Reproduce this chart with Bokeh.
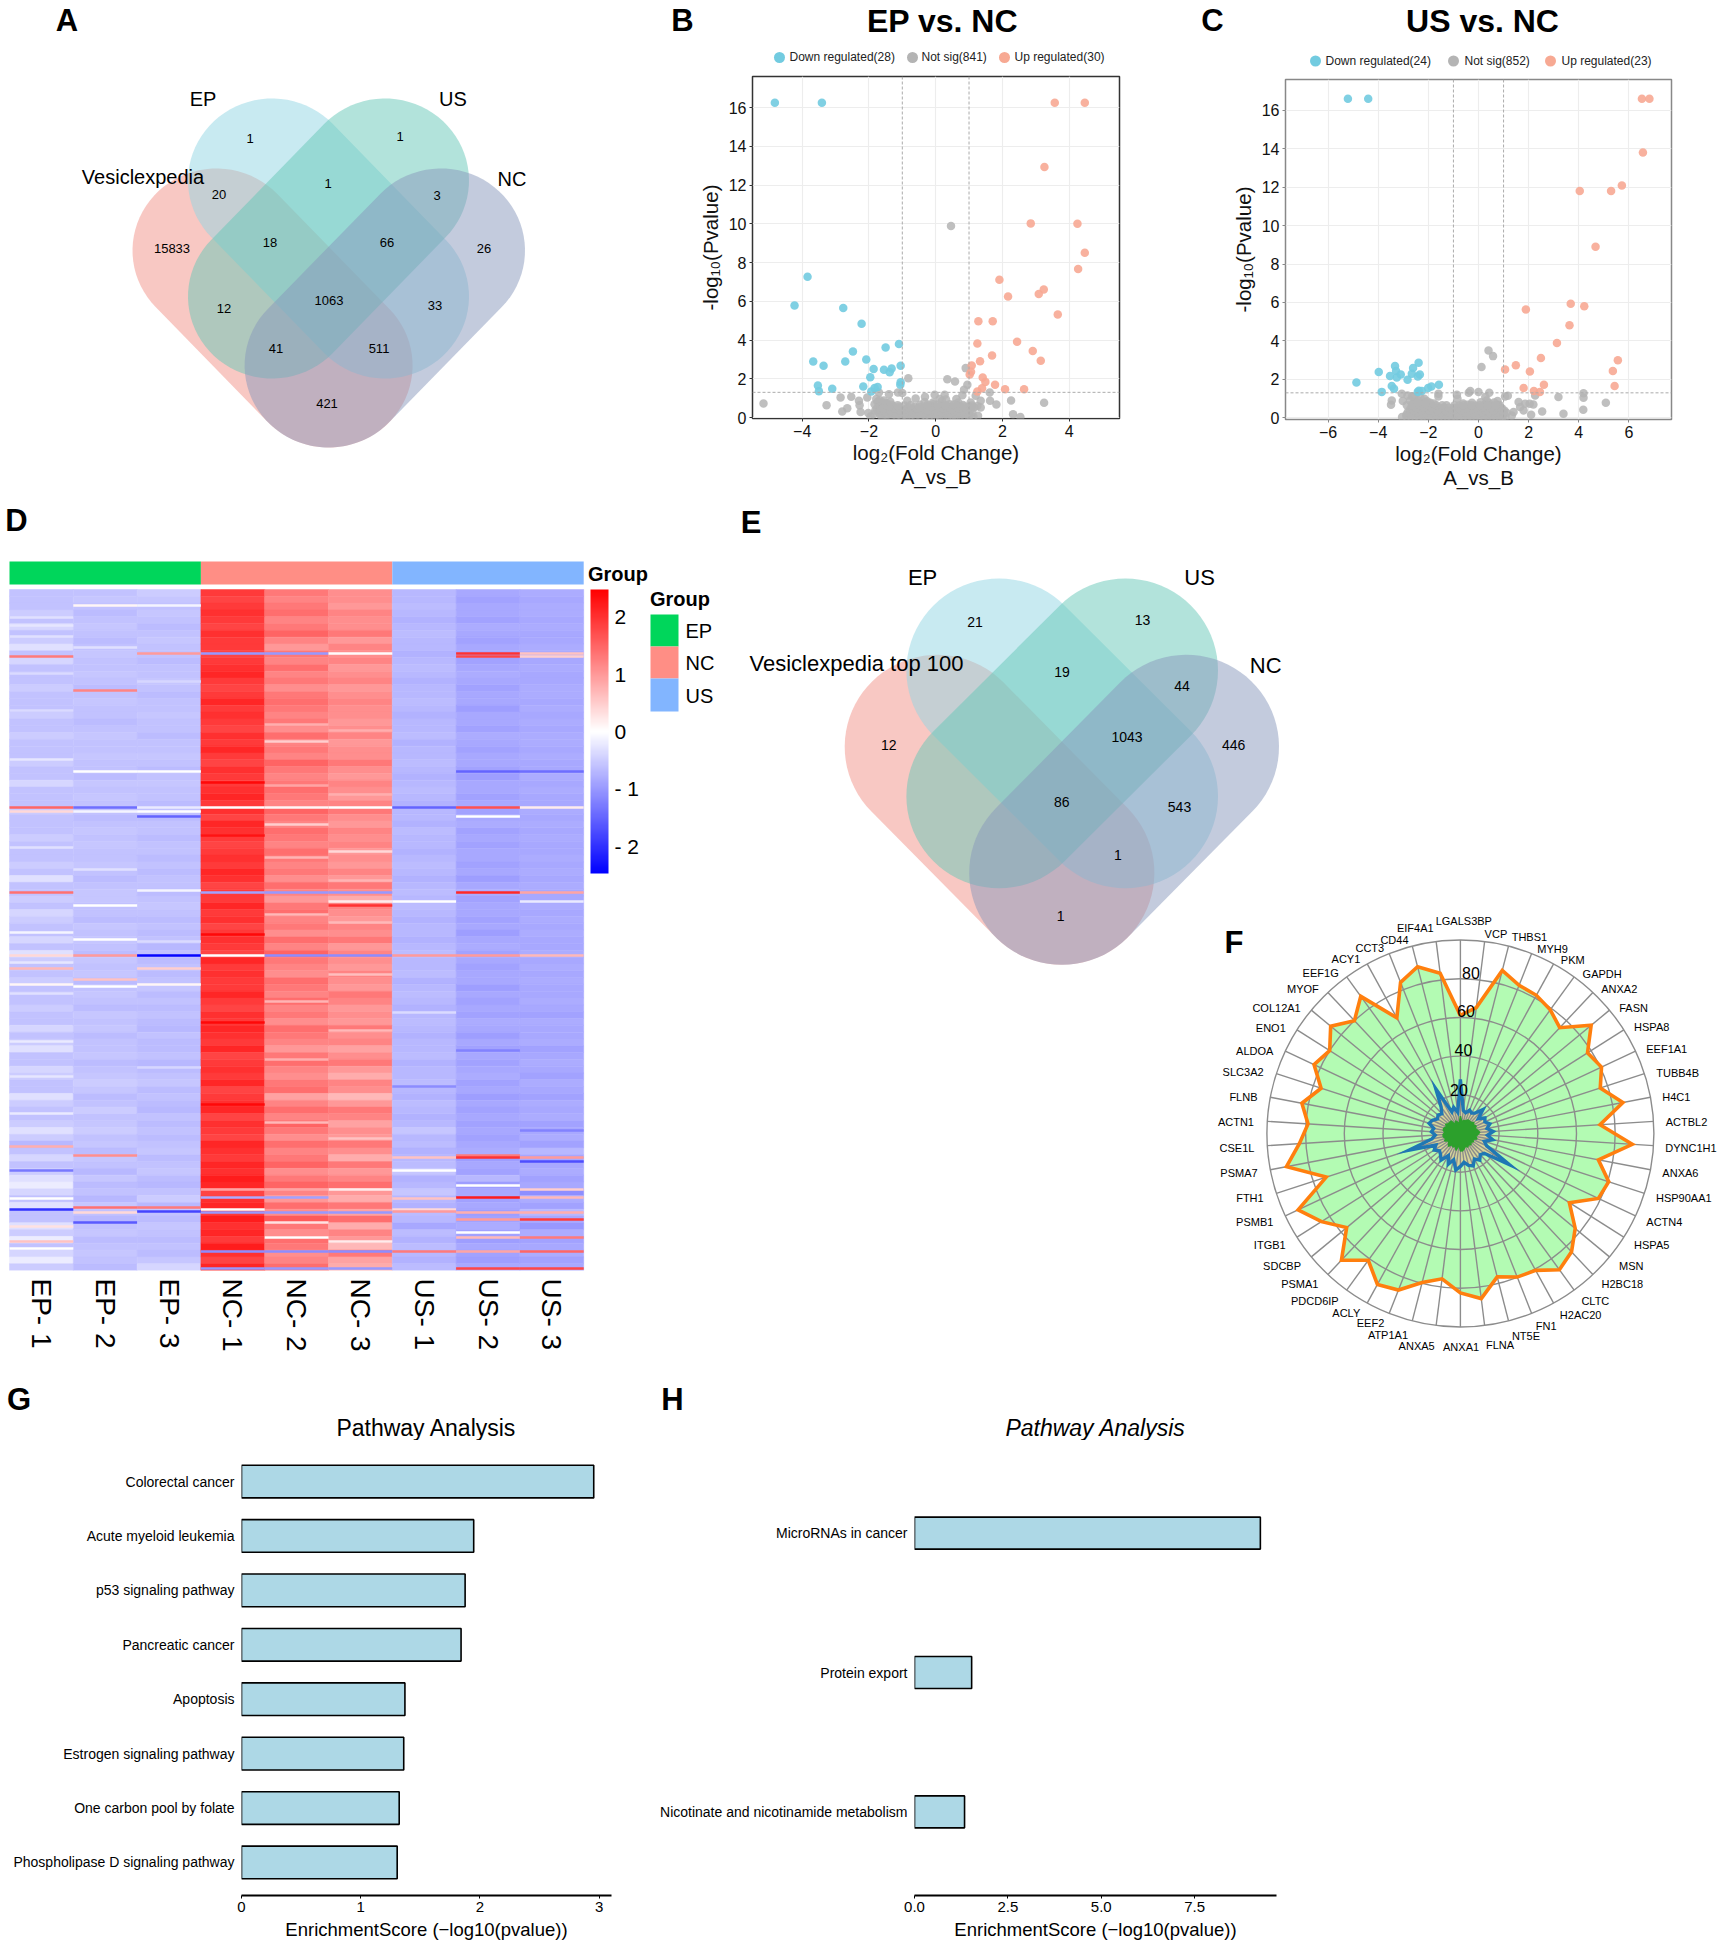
import math
from bokeh.plotting import figure
from bokeh.layouts import column, row
from bokeh.models import (Range1d, Label, FixedTicker, LinearColorMapper, ColorBar, FactorRange, Span)
from bokeh.core.properties import value
from bokeh.transform import transform
from bokeh.embed import file_html
from bokeh.resources import INLINE

FONT = "Liberation Sans"

# ---------------- DATA ----------------
venn_a_sets = ["EP", "US", "Vesiclexpedia", "NC"]
venn_a_counts = ["1", "1", "1", "20", "3", "18", "66", "15833", "26", "1063", "12", "33", "41", "511", "421"]
venn_e_sets = ["EP", "US", "Vesiclexpedia top 100", "NC"]
venn_e_counts = ["21", "13", "19", "44", "12", "1043", "446", "86", "543", "1", "1"]

b_down = [(-4.82,16.25),(-3.41,16.25),(-3.84,7.26),(-4.23,5.78),(-2.77,5.65),(-2.22,4.84),(-1.10,3.80),(-1.50,3.61),
          (-2.48,3.41),(-2.08,2.99),(-3.67,2.89),(-2.71,2.89),(-3.36,2.67),(-1.05,2.67),(-1.86,2.50),(-1.55,2.46),
          (-1.32,2.53),(-1.38,2.34),(-1.96,2.08),(-1.05,1.82),(-1.06,1.69),(-3.53,1.65),(-2.17,1.60),(-1.74,1.58),
          (-1.83,1.53),(-3.50,1.36),(-3.10,1.48),(-1.93,1.34)]
b_up = [(3.57,16.25),(4.47,16.25),(3.26,12.93),(2.85,10.02),(4.25,10.0),(4.47,8.50),(4.27,7.66),(1.91,7.11),
        (2.17,6.25),(3.24,6.61),(3.09,6.37),(3.66,5.32),(1.28,4.97),(1.71,4.97),(2.44,3.91),(1.25,3.82),
        (2.91,3.43),(1.69,3.20),(3.15,2.93),(1.33,2.91),(1.08,2.69),(1.06,2.36),(1.02,2.22),(1.41,2.07),
        (1.49,1.84),(1.78,1.69),(1.39,1.51),(2.08,1.46),(2.65,1.46),(1.25,1.34)]
b_notsig = [(-5.16,.72),(0.46,9.88),(-3.27,.64),(-2.80,.31),(-2.65,.48),(-2.85,1.03),(-2.53,1.07),(-2.25,.29),(-2.30,.86),
            (-2.28,.64),(-2.05,1.03),(-1.70,1.29),(-1.40,1.20),(-1.13,1.29),(-1.00,1.26),(-.82,2.03),(-.85,.86),(-.60,.98),
            (-.32,1.07),(-.03,1.17),(.27,1.17),(.35,1.98),(.58,1.86),(.62,.95),(.90,2.55),(.95,1.69),(.85,1.43),(.80,1.15),
            (1.20,1.12),(1.62,1.29),(1.63,.86),(1.82,.67),(2.26,.88),(2.32,.17),(2.54,.03),(3.25,.76),(1.35,.86),(1.25,.60),
            (1.35,.52),(1.27,.09),(1.10,.26),(1.05,.77),
            (-1.95,.05),(-1.62,.03),(-1.31,.07),(-1.02,.02),(-.74,.06),(-.46,.03),(-.19,.07),(.11,.02),(.36,.06),(.61,.03),(.88,.05),(1.13,.04),
            (-1.86,.17),(-1.47,.14),(-1.14,.16),(-.91,.13),(-.58,.18),(-.31,.12),(-.06,.15),(.22,.18),(.49,.13),(.76,.16),(1.02,.12),
            (-2.02,.24),(-1.71,.27),(-1.36,.23),(-1.06,.28),(-.79,.24),(-.51,.26),(-.14,.23),(.04,.29),(.31,.25),(.56,.27),(.84,.23),
            (-1.81,.36),(-1.52,.33),(-1.19,.38),(-.96,.34),(-.64,.37),(-.36,.33),(-.11,.38),(.16,.35),(.41,.32),(.69,.37),(.96,.35),
            (-1.76,.47),(-1.41,.44),(-1.09,.48),(-.71,.45),(-.42,.47),(-.21,.43),(.09,.48),(.34,.44),(.59,.46),(.81,.43),(1.06,.47),
            (-1.72,.56),(-1.56,.53),(-1.26,.57),(-1.70,.66),(-.62,.55),(-.26,.58),(.06,.54),(.24,.57),(.51,.55),(.74,.58),(.98,.56),
            (-1.83,.68),(-1.64,.64),(-1.32,.66),(-.93,.62),(-.47,.66),(-.07,.69),(.17,.63),(.42,.68),(.66,.64),(1.09,.62),
            (-1.74,.82),(-1.59,.78),(-1.46,.74),(-1.68,.90),(-1.78,.95),(-.33,.80),(-.08,.77),(.19,.85),(.31,.93),(.12,.96),(.68,.78),
            (-1.49,.06),(-1.17,.04),(-.88,.07),(-.60,.04),(-.32,.08),(-.03,.03),(.24,.07),(.49,.04),(.74,.07),(1.00,.03),
            (-1.66,.15),(-1.30,.18),(-1.00,.17),(-.74,.15),(-.45,.19),(-.18,.16),(.08,.13),(.36,.17),(.62,.14),(.89,.18),
            (-1.55,.26),(-1.21,.25),(-.92,.24),(-.65,.27),(-.33,.25),(-.01,.22),(.18,.27),(.44,.24),(.70,.26),(.97,.24),
            (-1.65,.38),(-1.35,.36),(-1.07,.36),(-.80,.37),(-.50,.34),(-.23,.36),(.02,.34),(.28,.37),(.55,.35),(.82,.33),
            (-1.58,.45),(-1.24,.46),(-.90,.44),(-.56,.46),(-.31,.45),(-.03,.44),(.22,.46),(.47,.43),(.70,.47),(.93,.44),
            (-1.40,.56),(-1.10,.55),(-.82,.53),(-.47,.54),(-.12,.56),(.15,.55),(.38,.56),(.63,.54),(.86,.57),(1.15,.53),
            (-1.48,.66),(-1.14,.64),(-.75,.65),(-.25,.66),(.06,.66),(.30,.64),(.54,.67),(.82,.65),(-1.55,.88),(-1.36,.82)]

c_down = [(-5.21,16.6),(-4.40,16.6),(-2.39,2.86),(-3.33,2.69),(-2.61,2.59),(-3.98,2.38),(-3.29,2.43),(-3.53,2.17),
          (-3.10,2.26),(-2.66,2.29),(-2.34,2.26),(-2.42,2.15),(-3.26,2.10),(-2.83,1.98),(-4.87,1.84),(-3.46,1.65),
          (-3.37,1.51),(-3.86,1.35),(-1.58,1.72),(-1.88,1.63),(-2.01,1.55),(-2.38,1.41),(-2.26,1.39),(-2.42,1.35)]
c_up = [(6.52,16.6),(6.82,16.6),(6.56,13.8),(5.72,12.08),(5.29,11.8),(4.04,11.8),(4.67,8.9),(3.68,5.94),(4.22,5.8),
        (1.89,5.64),(3.63,4.81),(3.13,3.89),(2.49,3.11),(5.56,3.0),(1.49,2.73),(1.06,2.52),(2.05,2.41),(5.36,2.43),
        (2.61,1.72),(5.43,1.65),(1.80,1.55),(2.21,1.39),(2.45,1.34)]
c_notsig = [(.40,3.50),(.58,3.21),(.12,2.64),(-3.46,.90),(-3.49,.68),(-3.06,1.25),(-3.02,.87),(-2.83,1.16),(-2.58,1.08),(-2.16,.99),
            (-1.60,1.25),(-1.60,1.11),(-.86,1.20),(-.84,.99),(-.39,1.30),(-.33,1.39),(0.0,1.34),(.43,1.30),(.27,1.08),(.33,.90),
            (1.06,1.11),(1.17,1.15),(.76,.87),(.78,.68),(2.26,1.16),(2.19,.69),(2.04,.73),(1.86,.73),(1.66,.56),(1.80,.38),
            (1.60,.82),(2.10,.16),(2.54,.33),(1.40,.30),(1.33,.12),(3.19,1.08),(3.39,.21),(4.19,1.28),(4.19,1.04),(4.18,.42),(5.08,.78),
            (-3.05,.04),(-2.71,.07),(-2.38,.03),(-2.06,.06),(-1.72,.02),(-1.41,.07),(-1.09,.03),(-.76,.06),(-.44,.02),(-.12,.07),(.21,.03),(.53,.06),(.84,.02),(1.08,.05),
            (-2.88,.16),(-2.51,.19),(-2.22,.14),(-1.87,.18),(-1.55,.15),(-1.24,.19),(-.91,.14),(-.59,.17),(-.28,.15),(.06,.19),(.37,.14),(.69,.18),(.97,.15),
            (-2.82,.29),(-2.62,.26),(-2.29,.30),(-1.98,.27),(-1.66,.31),(-1.33,.26),(-1.02,.30),(-.71,.27),(-.37,.31),(-.05,.26),(.27,.29),(.58,.27),(.89,.31),(1.12,.26),
            (-2.74,.42),(-2.41,.38),(-2.12,.43),(-1.79,.39),(-1.47,.42),(-1.16,.38),(-.83,.43),(-.52,.40),(-.19,.38),(.13,.43),(.44,.39),(.76,.42),(1.03,.38),
            (-2.67,.54),(-2.33,.51),(-2.04,.55),(-1.71,.51),(-1.38,.54),(-.98,.52),(-.64,.55),(-.31,.51),(.02,.55),(.35,.52),(.63,.54),(.93,.50),
            (-2.86,.66),(-2.48,.63),(-2.18,.68),(-1.85,.63),(-1.28,.66),(-.77,.64),(-.43,.68),(-.12,.64),(.22,.67),(.51,.63),(.85,.66),
            (-2.59,.78),(-2.27,.76),(-1.93,.79),(-2.73,.90),(-2.42,.92),(-2.05,.86),(-.26,.78),(.08,.81),(.43,.76),(.62,.80),(-.61,.74),(-2.31,1.02),(-2.65,1.12),
            (-2.87,.06),(-2.54,.05),(-2.22,.07),(-1.89,.04),(-1.57,.06),(-1.25,.05),(-.93,.07),(-.60,.04),(-.28,.05),(.04,.07),(.37,.04),(.68,.06),(.96,.04),
            (-2.70,.18),(-2.36,.17),(-2.04,.16),(-1.71,.19),(-1.40,.17),(-1.08,.15),(-.75,.18),(-.43,.16),(-.11,.17),(.22,.16),(.53,.17),(.83,.15),
            (-2.46,.28),(-2.14,.27),(-1.82,.29),(-1.50,.28),(-1.18,.27),(-.87,.29),(-.54,.28),(-.21,.27),(.11,.30),(.43,.28),(.74,.26),(1.00,.29),
            (-2.58,.40),(-2.27,.41),(-1.95,.40),(-1.63,.41),(-1.31,.40),(-1.00,.41),(-.67,.39),(-.35,.41),(-.03,.40),(.29,.41),(.60,.40),(.90,.41),
            (-2.50,.53),(-2.19,.52),(-1.87,.54),(-1.54,.52),(-1.18,.53),(-.81,.54),(-.47,.53),(-.15,.52),(.18,.54),(.49,.53),(.78,.52),
            (-2.66,.67),(-2.33,.66),(-2.01,.66),(-1.68,.65),(-1.45,.66),(-.95,.65),(-.60,.66),(-.28,.65),(.05,.66),(.36,.65),(.68,.66),(-2.43,.78),(-2.10,.78),(-1.78,.74)]

gene_names = ["LGALS3BP","VCP","THBS1","MYH9","PKM","GAPDH","ANXA2","FASN","HSPA8","EEF1A1","TUBB4B","H4C1","ACTBL2",
              "DYNC1H1","ANXA6","HSP90AA1","ACTN4","HSPA5","MSN","H2BC18","CLTC","H2AC20","FN1","NT5E","FLNA","ANXA1",
              "ANXA5","ATP1A1","EEF2","ACLY","PDCD6IP","PSMA1","SDCBP","ITGB1","PSMB1","FTH1","PSMA7","CSE1L","ACTN1",
              "FLNB","SLC3A2","ALDOA","ENO1","COL12A1","MYOF","EEF1G","ACY1","CCT3","CD44","EIF4A1"]
radar_orange = [61,65.6,87,82.4,81.5,79,75,87.7,77.8,80.6,76,85.5,72.3,89,72.6,80.6,78.8,66.7,77,83.9,87,80.7,79.8,76.5,86,
                82.4,75.7,79.5,87,89,81,89.8,76.3,85,92.7,72.9,91.5,83.4,78.9,83.4,75.7,83.6,80,87,80,87.6,68.2,84,89,83.5]
radar_blue = [28,12,11,13,12,13,17,12,15,14,16,14,17,14,17,13,15,30,16,15,17,15,18,17,15,17,19,14,17,13,17,15,14,16,14,28,
              15,13,15,14,17,16,14,15,14,17,26.5,12,14,11]
radar_green = [9,6,7,7,8,8,8,9,8,9,8,9,10,9,8,9,7,8,7,8,7,8,7,8,9,9,6,9,7,8,7,9,8,7,9,8,9,9,8,9,9,8,9,8,8,8,5,7,6,5]
radar_ticks = [20, 40, 60, 80]

sample_names = ["EP- 1","EP- 2","EP- 3","NC- 1","NC- 2","NC- 3","US- 1","US- 2","US- 3"]
group_names = ["EP","NC","US"]
heat_ep1 = [-.6,-.6,-.6,-.5,-.6,-.4,-.6,-.5,-.3,-.6, -.4,-.6,-.6,-.6,-.5,-.6,-.6,-.6,-.5,-.6,
            -.6,-.5,-.6,-.6,-.6,-.5,-.6,-.6,-.4,-.6, -.6,-.6,-.5,-.6,-.6,-.6,-.5,-.6,-.6,-.6,
            -.5,-.6,-.3,-.6,-.6,-.5,-.6,-.4,-.5,-.6, -.6,-.4,-.6,-.3,-.5,-.6,-.6,-.5,-.6,-.6,
            -.6,-.5,-.6,-.6,-.4,-.6,-.5,-.3,-.6,-.6, -.4,-.5,-.6,-.6,-.3,-.5,-.6,-.6,-.5,-.3,
            -.5,-.7,-.6,-.4,-.6,-.5,-.3,-.2,-.4,-.6, -.3,-.6,-.6,-.3,-.5,-.2,-.6,-.4,-.2,-.5]
heat_ep2 = [-.6,-.55,-.6,-.65,-.6,-.55,-.6,-.65,-.6,-.55, -.6,-.6,-.55,-.6,-.65,-.6,-.55,-.6,-.6,-.65,
            -.6,-.55,-.6,-.6,-.55,-.6,-.6,-.65,-.55,-.6, -.55,-.6,-.6,-.65,-.6,-.55,-.6,-.55,-.6,-.6,
            -.55,-.6,-.65,-.6,-.55,-.55,-.6,-.6,-.65,-.55, -.6,-.55,-.6,-.65,-.55,-.6,-.55,-.65,-.6,-.55,
            -.6,-.65,-.55,-.6,-.55,-.65,-.6,-.6,-.55,-.65, -.6,-.55,-.5,-.55,-.65,-.6,-.5,-.6,-.55,-.5,
            -.6,-.55,-.65,-.55,-.6,-.7,-.55,-.65,-.6,-.7, -.55,-.6,-.7,-.6,-.55,-.65,-.6,-.55,-.6,-.65]
heat_ep3 = [-.5,-.55,-.6,-.55,-.6,-.65,-.6,-.55,-.6,-.6, -.65,-.6,-.6,-.55,-.6,-.65,-.6,-.6,-.55,-.6,
            -.6,-.65,-.6,-.6,-.55,-.6,-.65,-.6,-.55,-.6, -.6,-.65,-.6,-.65,-.6,-.6,-.65,-.6,-.6,-.65,
            -.6,-.65,-.6,-.6,-.65,-.6,-.55,-.6,-.65,-.6, -.65,-.6,-.7,-.6,-.65,-.6,-.65,-.6,-.55,-.65,
            -.6,-.65,-.6,-.65,-.7,-.6,-.65,-.65,-.6,-.7, -.65,-.6,-.55,-.65,-.6,-.65,-.7,-.6,-.65,-.6,
            -.65,-.6,-.55,-.65,-.6,-.55,-.65,-.7,-.6,-.5, -.7,-.6,-.65,-.55,-.6,-.65,-.6,-.65,-.55,-.4]
heat_nc1 = [1.9,1.8,1.9,2.0,1.9,1.8,2.0,1.9,1.9,1.8, 1.9,2.0,2.1,1.9,1.8,1.9,2.1,1.9,2.0,1.9,
            1.8,2.0,1.9,2.1,1.9,1.8,2.0,1.9,1.9,2.0, 2.1,1.9,2.0,1.8,2.1,2.0,1.9,1.8,1.9,2.0,
            1.9,2.1,2.0,1.8,1.9,1.9,2.1,1.9,2.0,1.8, 1.9,2.0,1.9,1.8,2.1,1.9,2.0,1.9,1.9,2.1,
            1.9,1.8,2.0,1.9,2.1,2.0,1.9,2.1,1.8,1.9, 2.0,1.9,2.1,1.8,1.9,2.0,2.1,1.8,2.0,1.9,
            1.8,2.1,2.0,1.9,2.1,2.0,2.2,2.1,1.8,2.0, 2.1,1.9,2.2,2.0,2.1,1.9,2.2,2.0,1.8,2.1]
heat_nc2 = [1.3,1.2,1.3,1.4,1.2,1.3,1.5,1.2,1.0,1.3, 1.2,1.4,1.2,1.3,1.1,1.3,1.4,1.3,1.2,1.3,
            1.1,1.4,1.2,1.3,1.2,1.5,1.3,1.2,1.3,1.4, 1.3,1.2,1.5,1.3,1.2,1.4,1.3,1.2,1.4,1.3,
            1.2,1.3,1.1,1.4,1.2,1.0,1.3,1.4,1.2,1.3, 1.1,1.4,1.2,1.5,1.3,1.2,1.1,1.4,1.3,1.2,
            1.4,1.2,1.3,1.1,1.4,1.3,1.2,1.0,1.3,1.4, 1.2,1.1,1.3,1.4,.9,1.2,1.4,1.2,1.5,1.3,
            1.1,1.4,1.2,1.3,1.5,1.1,1.3,1.5,1.2,1.0, 1.4,1.1,1.6,1.3,1.1,1.4,1.3,1.1,1.2,1.4]
heat_nc3 = [1.1,1.1,1.0,1.2,1.1,1.1,1.3,1.0,1.2,1.1, 1.2,1.0,1.1,1.2,1.0,1.1,1.2,1.1,1.1,1.0,
            1.1,1.2,1.0,1.1,1.1,1.3,1.1,1.0,1.2,1.1, 1.0,1.2,1.3,1.1,1.0,1.2,1.1,1.2,1.0,1.1,
            1.0,1.2,1.0,1.3,1.1,.8,1.2,1.1,1.0,1.2, 1.1,1.3,1.0,1.2,1.1,1.0,1.2,1.1,1.0,1.3,
            1.2,1.0,1.1,1.0,1.3,1.1,1.2,.9,1.1,1.3, 1.0,.8,1.2,1.1,.7,1.0,1.3,1.2,.9,1.1,
            1.0,1.3,1.1,.8,1.3,1.0,1.2,1.4,1.0,.8, 1.3,.9,1.4,.8,1.2,1.0,.7,1.3,.9,.8]
heat_us1 = [-.7,-.7,-.65,-.7,-.75,-.7,-.65,-.7,-.7,-.75, -.7,-.65,-.7,-.75,-.7,-.7,-.65,-.7,-.75,-.7,
            -.7,-.65,-.75,-.7,-.7,-.65,-.7,-.75,-.7,-.65, -.7,-.75,-.7,-.7,-.75,-.65,-.7,-.7,-.75,-.7,
            -.65,-.7,-.75,-.7,-.65,-.7,-.65,-.7,-.75,-.7, -.7,-.75,-.7,-.65,-.7,-.7,-.65,-.75,-.7,-.65,
            -.7,-.75,-.7,-.65,-.7,-.75,-.7,-.7,-.65,-.75, -.7,-.7,-.65,-.7,-.75,-.65,-.7,-.75,-.7,-.55,
            -.7,-.65,-.75,-.7,-.65,-.55,-.75,-.7,-.55,-.7, -.75,-.65,-.7,-.85,-.65,-.75,-.65,-.7,-.75,-.65]
heat_us2 = [-.85,-.9,-.85,-.85,-.9,-.8,-.85,-.9,-.85,-.85, -.9,-.85,-.8,-.85,-.9,-.85,-.85,-.95,-.85,-.85,
            -.9,-.8,-.85,-.9,-.85,-.85,-.9,-.95,-.85,-.85, -.9,-.85,-.9,-.85,-.8,-.9,-.85,-.9,-.85,-.85,
            -.9,-.85,-.95,-.85,-.8,-.9,-.85,-.85,-.9,-.85, -.95,-.85,-.8,-.9,-.85,-.9,-.85,-.85,-.95,-.85,
            -.9,-.85,-.9,-.8,-.85,-.95,-.85,-.9,-.85,-.9, -.85,-.8,-.9,-.85,-.95,-.85,-.9,-.85,-.9,-.85,
            -.9,-.85,-.8,-.95,-.85,-.9,-.7,-.95,-.85,-.9, -.85,-.95,-.9,-.8,-.9,-.95,-.85,-.9,-.95,-.85]
heat_us3 = [-.8,-.85,-.8,-.8,-.85,-.8,-.85,-.85,-.8,-.8, -.85,-.8,-.85,-.85,-.8,-.8,-.85,-.8,-.85,-.8,
            -.85,-.8,-.8,-.85,-.8,-.85,-.85,-.8,-.85,-.8, -.85,-.85,-.8,-.85,-.8,-.85,-.8,-.85,-.85,-.8,
            -.85,-.8,-.85,-.8,-.85,-.85,-.8,-.85,-.8,-.85, -.8,-.85,-.85,-.8,-.85,-.8,-.85,-.8,-.85,-.85,
            -.8,-.85,-.9,-.8,-.85,-.85,-.8,-.9,-.85,-.8, -.85,-.9,-.8,-.85,-.9,-.8,-.85,-.8,-.9,-.85,
            -.8,-.9,-.7,-.85,-.85,-.8,-.9,-.85,-1.1,-.8, -.9,-.7,-.85,-1.0,-.8,-.9,-.85,-.8,-.9,-.85]
heat_columns = [heat_ep1, heat_ep2, heat_ep3, heat_nc1, heat_nc2, heat_nc3, heat_us1, heat_us2, heat_us3]
# thin outlier rows: protein rank (pixels of the reference from the top of the map), column, value
heat_outliers = [(16,1,.1),(16,2,-.1),(64,2,1.0),(64,3,-1.0),(64,4,-1.0),(64,5,.05),(64,7,2.0),(64,8,.6),
                 (67,0,1.3),(67,7,1.8),(67,8,.5),(101,1,1.2),(152,4,.5),(182,1,0),(182,2,0),(182,7,-1.5),(182,8,-1.4),
                 (218,0,1.5),(218,1,-1.4),(218,2,-.2),(218,3,0),(218,4,.1),(218,5,0),(218,6,-1.5),(218,7,1.7),(218,8,.2),
                 (222,0,.4),(222,1,-.1),(222,2,0),(227,2,-1.5),(227,7,0),(235,4,.5),(262,5,.4),
                 (301,2,-.1),(303,0,1.4),(303,3,-.9),(303,4,-1.0),(303,5,-1.0),(303,7,2.1),(303,8,.9),
                 (312,6,0),(312,5,.2),(312,8,-.2),(316,5,2.0),(316,1,0),(350,1,0),(343,0,-.1),
                 (366,0,.4),(366,1,1.0),(366,2,-2.4),(366,3,0),(366,4,-1.1),(366,5,-1.1),(366,6,1.0),(366,7,1.0),(366,8,.7),
                 (379,0,.7),(379,2,.5),(390,1,.6),(395,0,.1),(395,2,.1),(397,1,0),
                 (557,0,.8),(566,1,1.1),(566,7,1.3),(568,6,.6),(568,7,2.0),(568,8,1.0),(572,8,-1.7),(581,0,-1.3),(581,6,0),
                 (596,7,0),(600,5,.2),(600,8,.5),(600,3,.9),(600,4,.9),
                 (608,3,-.8),(608,4,-.9),(608,7,2.2),(608,8,.7),(609,6,.6),(609,0,0),
                 (618,1,1.4),(618,2,1.3),(620,0,-2.0),(620,3,0),(620,6,.4),(622,2,-1.8),(622,6,1.0),
                 (623,1,.4),(623,3,-1.0),(623,4,-1.0),(623,5,-1.0),(623,7,.8),(623,8,.8),
                 (630,7,1.0),(630,8,1.9),(633,1,-1.6),(633,4,.3),(637,0,.3),(648,7,.7),(648,8,1.3),(648,4,0),(652,0,.6),(652,5,.2),(643,7,0),
                 (659,0,0),(662,3,-1.1),(662,4,-1.1),(662,5,-1.1),(662,6,1.3),(662,7,.9),(662,8,1.5),
                 (679,7,1.8),(679,8,1.8),(679,3,-1.0),(679,4,-1.0),(679,5,-1.0),
                 # fine pale and dark hairlines seen within the blocks
                 (28,0,-.3),(36,0,-.25),(47,0,-.3),(58,1,-.3),(84,0,-.35),(92,2,-.4),(121,0,-.35),(135,4,.8),(141,5,.8),
                 (170,0,-.25),(193,3,2.4),(196,4,.9),(205,5,.8),(246,3,2.3),(258,0,-.3),(268,4,.75),(280,1,-.3),(291,5,.75),
                 (325,4,.7),(333,5,.7),(345,3,2.4),(352,2,-.35),(373,0,-.25),(385,5,.65),(404,0,-.3),(412,4,.75),(423,6,-.35),
                 (433,3,2.4),(441,5,.7),(452,0,-.2),(461,7,-1.2),(470,4,.8),(478,2,-.4),(487,0,-.25),(497,6,-1.1),(506,5,.7),
                 (515,3,2.4),(524,0,-.2),(533,4,.7),(541,8,-1.2),(549,5,.6)]
colorbar_ticks = [-2, -1, 0, 1, 2]

pathways_g = ["Colorectal cancer","Acute myeloid leukemia","p53 signaling pathway","Pancreatic cancer","Apoptosis",
              "Estrogen signaling pathway","One carbon pool by folate","Phospholipase D signaling pathway"]
scores_g = [2.955, 1.948, 1.876, 1.842, 1.371, 1.361, 1.323, 1.306]
pathways_h = ["MicroRNAs in cancer","Protein export","Nicotinate and nicotinamide metabolism"]
scores_h = [9.26, 1.53, 1.34]

# ---------------- HELPERS ----------------
def note(p, L, B, px, py, text, size, style="normal", align="center"):
    p.add_layout(Label(x=px-L, y=B-py, x_units="screen", y_units="screen", text=text, text_font=FONT,
                       text_font_size=f"{size}px", text_font_style=style, text_align=align,
                       text_baseline="middle", text_color="black"))

def blank(x0, x1, y0, y1, dx=0):
    p = figure(width=x1-x0, height=y1-y0, x_range=Range1d(x0+dx, x1+dx), y_range=Range1d(y1, y0),
               x_axis_type=None, y_axis_type=None, toolbar_location=None, output_backend="svg", min_border=0,
               frame_align=False)
    p.outline_line_color = None
    p.grid.visible = False
    return p

def txt(p, xs, ys, texts, size, style="normal", align="center", color="black"):
    p.text(x=xs, y=ys, text=texts, text_font=value(FONT), text_font_size=value(f"{size}px"),
           text_font_style=style, text_align=align, text_baseline="middle", text_color=color)

def stadium(c1, c2, rx, ry, n=40):
    a = math.atan2((c2[1]-c1[1])/ry, (c2[0]-c1[0])/rx)
    xs, ys = [], []
    for i in range(n+1):
        t = a - math.pi/2 + math.pi*i/n
        xs.append(c2[0]+rx*math.cos(t)); ys.append(c2[1]+ry*math.sin(t))
    for i in range(n+1):
        t = a + math.pi/2 + math.pi*i/n
        xs.append(c1[0]+rx*math.cos(t)); ys.append(c1[1]+ry*math.sin(t))
    return xs, ys

VENN_COL = {"red": "#F19187", "ep": "#91D5E3", "us": "#65C7B7", "nc": "#8797BB"}
def venn(p, geo, rx, ry):
    for key in ["red", "ep", "us", "nc"]:
        xs, ys = stadium(geo[key][0], geo[key][1], rx, ry)
        p.patch(xs, ys, fill_color=VENN_COL[key], fill_alpha=0.5, line_color=None)

# ---------------- A ----------------
pa = blank(0, 650, 0, 500, dx=1.5)
venn(pa, {"red": ((217.5,250),(329.6,365)), "ep": ((273,180),(386,296)),
          "us": ((386,180),(273,296)), "nc": ((442,250),(329.6,365))}, 84, 82)
txt(pa, [204,454,144,513], [98,98,176,178], venn_a_sets, 20)
txt(pa, [251,401,329,220,438,271,388,173,485,330,225,436,277,380,328],
    [138,136,183,194,195,242,242,248,248,300,308,305,348,348,403], venn_a_counts, 13)
txt(pa, [68], [20], ["A"], 31, "bold")

# ---------------- volcano ----------------
DOWN_C, NOT_C, UP_C = "#72CBE0", "#B4B4B4", "#F7A993"
def volcano(x0, x1, fl, fr, ft, fb, xr, yr, xticks, down, notsig, up, title, letter, lx, tx, names, border,
            leg_mark, leg_text, leg_y):
    strip = blank(x0, x1, 0, 72)
    txt(strip, [tx], [20], [title], 32, "bold")
    txt(strip, [lx], [20], [letter], 31, "bold")
    strip.scatter(leg_mark, [leg_y]*3, size=11, color=[DOWN_C, NOT_C, UP_C], line_color=None)
    txt(strip, leg_text, [leg_y-.5]*3, names, 12, color="#222222")
    strip.renderers[-1].glyph.text_align = "left"
    p = figure(width=x1-x0, height=428, x_range=Range1d(*xr), y_range=Range1d(*yr), toolbar_location=None,
               output_backend="svg", min_border_left=fl-x0, min_border_right=x1-fr, min_border_top=ft-72,
               min_border_bottom=500-fb, frame_align=False)
    p.outline_line_color = border
    p.outline_line_width = 1.5
    p.grid.grid_line_color = "#EDEDED"
    p.grid.grid_line_width = 1.2
    p.xaxis.ticker = FixedTicker(ticks=xticks)
    p.yaxis.ticker = FixedTicker(ticks=[0,2,4,6,8,10,12,14,16])
    p.axis.axis_line_color = None
    p.axis.major_tick_line_color = border
    p.axis.major_tick_in = 0
    p.axis.major_tick_out = 3
    p.axis.minor_tick_line_color = None
    p.axis.major_label_text_font = FONT
    p.axis.major_label_text_font_size = "16px"
    p.axis.major_label_text_color = "#111111"
    p.axis.major_label_standoff = 3
    p.axis.axis_label_text_font = FONT
    p.axis.axis_label_text_font_size = "20.5px"
    p.axis.axis_label_text_font_style = "normal"
    p.axis.axis_label_text_color = "#111111"
    p.xaxis.axis_label = "log\u2082(Fold Change)\nA_vs_B"
    p.xaxis.axis_label_standoff = 1
    p.xaxis.axis_label_text_line_height = 1.05
    p.yaxis.axis_label = "-log\u2081\u2080(Pvalue)"
    p.yaxis.axis_label_standoff = 4
    for v in (-1, 1):
        p.add_layout(Span(location=v, dimension="height", line_color="#ABABAB", line_dash="3 2", line_width=1))
    p.add_layout(Span(location=1.3, dimension="width", line_color="#ABABAB", line_dash="3 2", line_width=1))
    p.scatter([a for a,b in notsig], [b for a,b in notsig], size=8.5, color=NOT_C, alpha=0.85, line_color=None)
    p.scatter([a for a,b in down], [b for a,b in down], size=8.5, color=DOWN_C, alpha=0.9, line_color=None)
    p.scatter([a for a,b in up], [b for a,b in up], size=8.5, color=UP_C, alpha=0.9, line_color=None)
    return column(strip, p, spacing=0)

pb = volcano(650, 1190, 752, 1119, 76, 418, (-5.49, 5.51), (-0.05, 17.6), [-4,-2,0,2,4], b_down, b_notsig, b_up,
             "EP vs. NC", "B", 682, 942, ["Down regulated(28)", "Not sig(841)", "Up regulated(30)"], "#333333",
             [779, 912, 1004], [789, 921, 1014], 57)
pc = volcano(1190, 1733, 1285, 1671, 79, 419, (-7.70, 7.70), (-0.087, 17.6), [-6,-4,-2,0,2,4,6], c_down, c_notsig, c_up,
             "US vs. NC", "C", 1212, 1482, ["Down regulated(24)", "Not sig(852)", "Up regulated(23)"], "#888888",
             [1315, 1453, 1550], [1325, 1464, 1561], 60.5)

# ---------------- D ----------------
ROWS = len(heat_ep1)
RH = 681 / ROWS
DL, DB, CW = 9, 1270, 63.8
def hy(py): return (py - 589) / RH
def hx(px): return (px - DL) / CW
pd_ = figure(width=740, height=880, x_range=Range1d(hx(0), hx(740)), y_range=Range1d(ROWS, hy(500)),
             toolbar_location=None, output_backend="svg", min_border_left=0, min_border_right=0,
             min_border_top=0, min_border_bottom=110, y_axis_type=None, frame_align=False)
pd_.outline_line_color = None
pd_.grid.visible = False
pd_.xaxis.ticker = FixedTicker(ticks=[i+.5 for i in range(9)])
pd_.xaxis.major_label_overrides = {i+.5: s for i, s in enumerate(sample_names)}
pd_.xaxis.major_label_orientation = -math.pi/2
pd_.xaxis.axis_line_color = None
pd_.xaxis.major_tick_line_color = None
pd_.xaxis.major_tick_out = 0
pd_.xaxis.major_tick_in = 0
pd_.xaxis.minor_tick_line_color = None
pd_.xaxis.major_label_text_font = FONT
pd_.xaxis.major_label_text_font_size = "28px"
pd_.xaxis.major_label_text_color = "black"
pd_.xaxis.major_label_standoff = 8
palette = ["#%02X%02XFF" % (i, i) for i in range(0, 255, 2)] + ["#FFFFFF"] + ["#FF%02X%02X" % (i, i) for i in range(254, -1, -2)]
mapper = LinearColorMapper(palette=palette, low=-2.47, high=2.47)
cx, cy, cv = [], [], []
for j, col in enumerate(heat_columns):
    for i, v in enumerate(col):
        cx.append(j+.5); cy.append(i+.5); cv.append(v)
src = dict(x=cx, y=cy, v=cv)
pd_.rect(x="x", y="y", width=1, height=1, source=src, fill_color=transform("v", mapper),
         line_color=transform("v", mapper), line_width=0.5)
ol = [(hy(589+r-1.2), hy(589+r+1.2), c, v) for r, c, v in heat_outliers]
pd_.quad(left=[o[2] for o in ol], right=[o[2]+1 for o in ol], top=[o[0] for o in ol], bottom=[o[1] for o in ol],
         fill_color=[palette[min(255, int((o[3]+2.47)/4.94*256))] for o in ol], line_color=None)
group_cols = ["#00D65B", "#FF8E85", "#82B5FF"]
pd_.quad(left=[0,3,6], right=[3,6,9], top=[hy(561)]*3, bottom=[hy(584)]*3, fill_color=group_cols, line_color=None)
pd_.quad(left=[hx(650)]*3, right=[hx(678)]*3, top=[hy(614),hy(646),hy(678)], bottom=[hy(646),hy(678),hy(711)],
         fill_color=group_cols, line_color=None)
cb = ColorBar(color_mapper=mapper, location=(590, 397), width=18, height=284, padding=0, margin=0,
              ticker=FixedTicker(ticks=colorbar_ticks), major_label_overrides={-1: "- 1", -2: "- 2"},
              major_label_text_font=FONT, major_label_text_font_size="21px", major_label_text_color="black",
              label_standoff=6, major_tick_line_color=None, minor_tick_line_color=None, bar_line_color=None,
              border_line_color=None, background_fill_alpha=0, title=None)
pd_.add_layout(cb)
note(pd_, 0, DB, 16, 520, "D", 31, "bold")
note(pd_, 0, DB, 617.5, 573, "Group", 20, "bold")
note(pd_, 0, DB, 679.5, 598, "Group", 20, "bold")
for gname, gy in zip(group_names, [630, 662, 695]):
    note(pd_, 0, DB, 685, gy, gname, 20, "normal", "left")

# ---------------- E + F ----------------
pe = blank(740, 1733, 500, 1380, dx=2.5)
venn(pe, {"red": ((939.3,746.3),(1063.8,872.3)), "ep": ((1001,670),(1127.4,795.7)),
          "us": ((1127.4,670),(1001,795.7)), "nc": ((1188.4,746.3),(1063.8,872.3))}, 92.6, 92)
txt(pe, [924.6,1201.6,858.5,1267.7], [577.3,577.3,663.3,665], venn_e_sets, 22)
txt(pe, [977,1144.6,1064,1184,890.8,1129,1235.7,1063.8,1181.5,1119.8,1062.7],
    [621.7,619,671.7,685,744,736.7,744,801.7,806.7,854,915], venn_e_counts, 14)
txt(pe, [753,1236], [522,941.7], ["E","F"], 31, "bold")

RX, RY, RU = 1462.4, 1133, 1.935
N = len(gene_names)
def polar(vals):
    xs = [RX + v*RU*math.sin(2*math.pi*i/N) for i, v in enumerate(vals)]
    ys = [RY - v*RU*math.cos(2*math.pi*i/N) for i, v in enumerate(vals)]
    return xs + xs[:1], ys + ys[:1]
GRID = "#8C8C8C"
ox, oy = polar(radar_orange); bx, by = polar(radar_blue); gx, gy = polar(radar_green)
pe.patch(ox, oy, fill_color="#B3FBB3", line_color=None)
pe.patch(bx, by, fill_color="#D6D69A", line_color=None)
spx, spy = [], []
for i in range(N):
    a = 2*math.pi*i/N
    spx.append([RX, RX + 100*RU*math.sin(a)]); spy.append([RY, RY - 100*RU*math.cos(a)])
pe.multi_line(spx, spy, line_color=GRID, line_width=1.4)
pe.circle(x=[RX]*5, y=[RY]*5, radius=[20*RU, 40*RU, 60*RU, 80*RU, 100*RU], fill_color=None, line_color=GRID, line_width=1.4)
pe.line(ox, oy, line_color="#FF7F0E", line_width=3.6, line_join="miter")
pe.line(bx, by, line_color="#1F77B4", line_width=3.4, line_join="miter")
pe.patch(gx, gy, fill_color="#2CA02C", line_color="#2CA02C", line_width=1.5)
txt(pe, [1461,1465.5,1468,1473], [1089,1049,1010,972], [str(t) for t in radar_ticks], 16)
gene_zx = [778,872,970,1038,1097,1183,1233,1275,1328,1372,1404,1400,1430,1443,1412,1422,1365,1328,1268,1242,1163,1120,1019,960,884,
           770,640,556,505,434,342,298,246,210,166,152,120,114,111,133,132,166,213,230,307,359,433,503,575,636]
gene_zy = [2,40,48,85,118,160,205,262,318,385,458,528,604,682,758,833,905,972,1035,1091,1141,1183,1215,1247,1272,
           1280,1275,1242,1207,1178,1140,1091,1035,972,905,833,758,682,604,528,453,390,323,262,205,156,115,82,58,22]
txt(pe, [1200 + z/2.927 for z in gene_zx], [920 + z/3 for z in gene_zy], gene_names, 11)

# ---------------- G, H ----------------
def bars(x0, x1, fl, fr, ft, fb, names, vals, xmax, xticks, overrides, height, pad, title, italic, letter, lx):
    strip = blank(x0, x1, 1380, 1440)
    txt(strip, [(fl+fr)/2], [1427], [title], 23, "italic" if italic else "normal")
    txt(strip, [lx], [1399], [letter], 31, "bold")
    p = figure(width=x1-x0, height=510, y_range=FactorRange(factors=names[::-1], range_padding=pad, range_padding_units="absolute"),
               x_range=Range1d(0, xmax), toolbar_location=None, output_backend="svg",
               min_border_left=fl-x0, min_border_right=x1-fr, min_border_top=ft-1440, min_border_bottom=1950-fb,
               frame_align=False)
    p.outline_line_color = None
    p.grid.visible = False
    p.hbar(y=names, right=vals, left=0, height=height, fill_color="#ADD8E6", line_color="black", line_width=1.6)
    p.xaxis.ticker = FixedTicker(ticks=xticks)
    p.xaxis.major_label_overrides = overrides
    p.xaxis.axis_line_width = 2
    p.xaxis.axis_line_color = "black"
    p.xaxis.major_tick_line_color = "black"
    p.xaxis.major_tick_in = 0
    p.xaxis.major_tick_out = 3
    p.xaxis.minor_tick_line_color = None
    p.xaxis.major_label_text_font = FONT
    p.xaxis.major_label_text_font_size = "15px"
    p.xaxis.major_label_text_color = "black"
    p.xaxis.major_label_standoff = 3
    p.xaxis.axis_label = "EnrichmentScore (\u2212log10(pvalue))"
    p.xaxis.axis_label_text_font = FONT
    p.xaxis.axis_label_text_font_size = "18.5px"
    p.xaxis.axis_label_text_font_style = "normal"
    p.xaxis.axis_label_text_color = "black"
    p.xaxis.axis_label_standoff = 4
    p.yaxis.axis_line_color = None
    p.yaxis.major_tick_line_color = None
    p.yaxis.major_tick_out = 0
    p.yaxis.major_tick_in = 0
    p.yaxis.minor_tick_line_color = None
    p.yaxis.major_label_text_font = FONT
    p.yaxis.major_label_text_font_size = "14px"
    p.yaxis.major_label_text_color = "black"
    p.yaxis.major_label_standoff = 7
    return column(strip, p, spacing=0)

pg = bars(0, 640, 241, 611, 1448, 1895, pathways_g, scores_g, 370/119.2, [0,1,2,3], {}, .6, .108,
          "Pathway Analysis", False, "G", 18.5)
ph = bars(640, 1733, 914, 1276, 1449, 1895, pathways_h, scores_h, 362/37.35, [0,2.5,5,7.5],
          {0: "0.0", 2.5: "2.5", 5: "5.0", 7.5: "7.5"}, .229, .1, "Pathway Analysis", True, "H", 672)

page = column(row(pa, pb, pc, spacing=0), row(pd_, pe, spacing=0), row(pg, ph, spacing=0), spacing=0)
open("out.html", "w").write(file_html(page, INLINE))
